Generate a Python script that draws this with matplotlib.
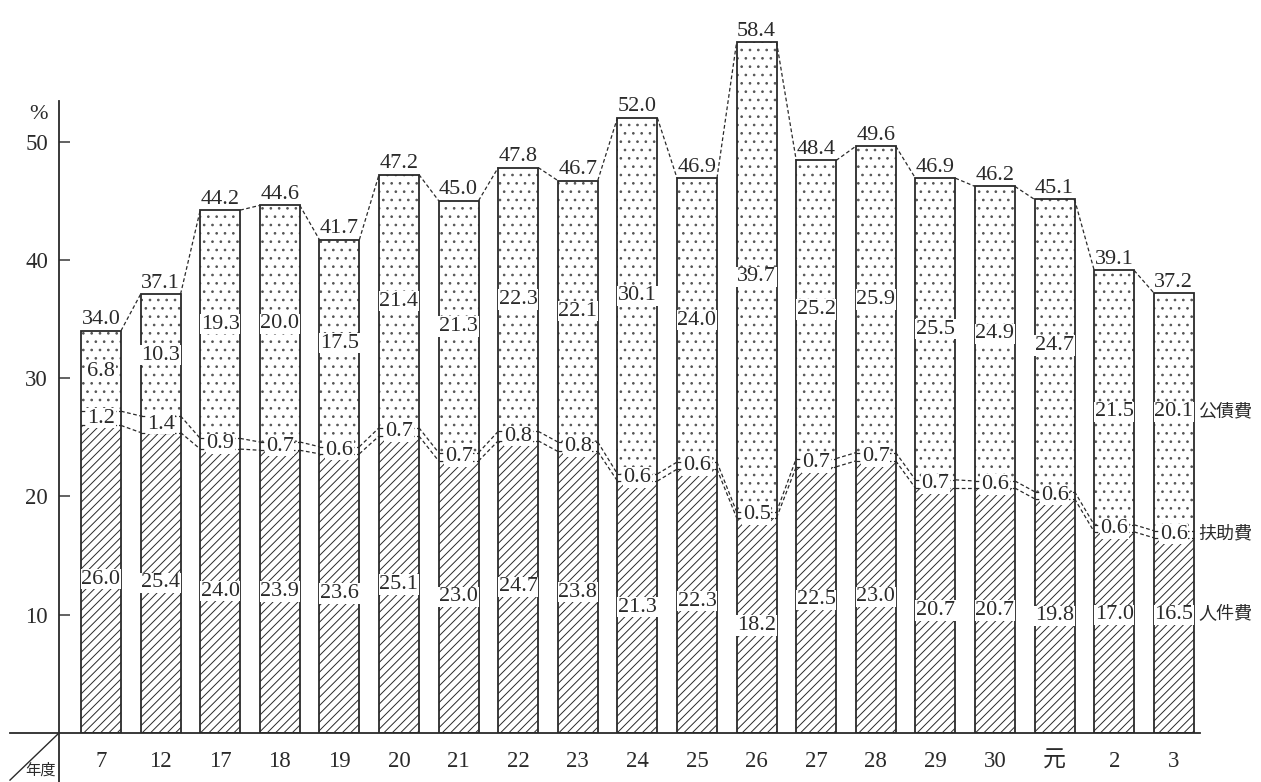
import matplotlib.pyplot as plt
import numpy as np

plt.rcParams['font.family'] = ['Liberation Serif', 'Noto Sans CJK JP', 'DejaVu Sans']
plt.rcParams['hatch.linewidth'] = 0.7

#%% data (年度別 構成比, %)
years = ['7', '12', '17', '18', '19', '20', '21', '22', '23', '24',
         '25', '26', '27', '28', '29', '30', '元', '2', '3']
jinken = [26.0, 25.4, 24.0, 23.9, 23.6, 25.1, 23.0, 24.7, 23.8, 21.3,
          22.3, 18.2, 22.5, 23.0, 20.7, 20.7, 19.8, 17.0, 16.5]
fujo = [1.2, 1.4, 0.9, 0.7, 0.6, 0.7, 0.7, 0.8, 0.8, 0.6,
        0.6, 0.5, 0.7, 0.7, 0.7, 0.6, 0.6, 0.6, 0.6]
kosai = [6.8, 10.3, 19.3, 20.0, 17.5, 21.4, 21.3, 22.3, 22.1, 30.1,
         24.0, 39.7, 25.2, 25.9, 25.5, 24.9, 24.7, 21.5, 20.1]
totals = [34.0, 37.1, 44.2, 44.6, 41.7, 47.2, 45.0, 47.8, 46.7, 52.0,
          46.9, 58.4, 48.4, 49.6, 46.9, 46.2, 45.1, 39.1, 37.2]
names = ['人件費', '扶助費', '公債費']

jinken = np.array(jinken)
fujo = np.array(fujo)
kosai = np.array(kosai)
lev1 = jinken
lev2 = jinken + fujo
lev3 = lev2 + kosai

x = np.arange(len(years))
w = 0.67
ink = '#2a2a2a'

fig = plt.figure(figsize=(12.61, 7.82), dpi=100)
ax = fig.add_axes([59/1261, 49/782, 1202/1261, 733/782])
ax.set_xlim(-42/59.6, (1261-101)/59.6)
ax.set_ylim(0, 733/11.83)
for s in ax.spines.values():
    s.set_visible(False)

# segments
ax.bar(x, jinken, w, color='white', edgecolor=ink, lw=0, hatch='////')
ax.bar(x, fujo, w, bottom=lev1, color='white', lw=0)
ax.bar(x, kosai, w, bottom=lev2, color='white', edgecolor='#555', lw=0, hatch='..')
ax.bar(x, lev3, w, fill=False, edgecolor=ink, lw=1.3)

# dashed boundaries inside bars + connectors between bars
for lev in [lev1, lev2, lev3]:
    for i in range(len(x)):
        if lev is not lev3:
            ax.plot([x[i]-w/2, x[i]+w/2], [lev[i], lev[i]], ls=(0, (3, 2)), color=ink, lw=0.9)
        if i < len(x) - 1:
            ax.plot([x[i]+w/2, x[i+1]-w/2], [lev[i], lev[i+1]], ls=(0, (3, 2)), color=ink, lw=0.9)

# row label heights (taken from last bar)
row_y = [10.0, lev1[-1] + fujo[-1]/2, lev2[-1] + kosai[-1]/2]

fs = 16
box = dict(facecolor='white', edgecolor='none', pad=0.5)
for i in range(len(x)):
    y1 = jinken[i]/2
    y3 = lev2[i] + kosai[i]/2
    if i >= len(x) - 2:
        y1 = row_y[0]
        y3 = row_y[2]
    ax.text(x[i], y1, f'{jinken[i]:.1f}', ha='center', va='center', fontsize=fs, color=ink, bbox=box)
    ax.text(x[i], lev1[i] + fujo[i]/2, f'{fujo[i]:.1f}', ha='center', va='center', fontsize=fs, color=ink, bbox=box)
    ax.text(x[i], y3, f'{kosai[i]:.1f}', ha='center', va='center', fontsize=fs, color=ink, bbox=box)
    ax.annotate(f'{totals[i]:.1f}', (x[i], lev3[i]), xytext=(0, 1), textcoords='offset points',
                ha='center', va='bottom', fontsize=fs, color=ink)

for nm, yy in zip(names, row_y):
    ax.text(x[-1] + w/2 + 0.08, yy, nm, ha='left', va='center', fontsize=13, color=ink)

# axes lines
x0 = ax.get_xlim()[0]
ax.plot([x0, x0], [-4.2, 53.4], color=ink, lw=1.3, clip_on=False)
ax.plot([(10-101)/59.6, (1200-101)/59.6], [0, 0], color=ink, lw=1.3, clip_on=False)
ax.plot([(10-101)/59.6, x0], [-3.98, 0], color=ink, lw=1.0, clip_on=False)
ax.text((40-101)/59.6, -3.2, '年度', ha='center', va='center', fontsize=11, color=ink)
ax.text((48-101)/59.6, 52.3, '%', ha='right', va='center', fontsize=16, color=ink)

ax.set_yticks([10, 20, 30, 40, 50])
ax.set_xticks(x)
ax.set_xticklabels(years)
ax.tick_params(axis='y', direction='in', length=8, width=1.3, color='#555', pad=8, labelsize=16.5, labelcolor=ink)
ax.tick_params(axis='x', length=0, pad=13, labelsize=16.5, labelcolor=ink)

plt.savefig('out.png', dpi=100)
